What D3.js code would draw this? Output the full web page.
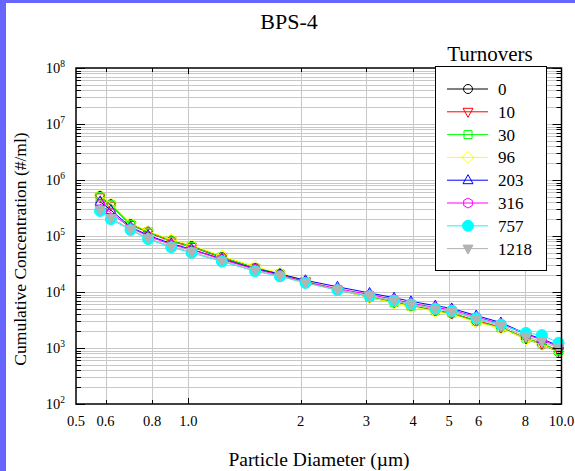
<!DOCTYPE html>
<html>
<head>
<meta charset="utf-8">
<script src="https://cdn.jsdelivr.net/npm/d3@7"></script>
<style>
  html, body { margin: 0; padding: 0; background: #fff; }
  svg { display: block; }
  text { font-family: "Liberation Serif", "Times New Roman", serif; fill: #000; }
</style>
</head>
<body>
<svg id="chart" width="575" height="471"></svg>
<script>
// Particle diameter channels (µm)
const diameters = [0.58, 0.62, 0.70, 0.78, 0.90, 1.02, 1.23, 1.51, 1.76, 2.06, 2.51,
                   3.06, 3.56, 3.95, 4.59, 5.08, 5.91, 6.88, 8.03, 8.86, 9.82];

// Cumulative concentration (#/ml) for each turnover count
const conc0    = [5.2e5, 3.7e5, 1.62e5, 1.2e5, 8.3e4, 6.6e4, 4.2e4, 2.7e4, 2.1e4, 1.55e4, 1.1e4,
                  8.0e3, 6.5e3, 5.6e3, 4.6e3, 4.1e3, 3.0e3, 2.3e3, 1.45e3, 1.15e3, 850];
const conc10   = [4.9e5, 3.5e5, 1.58e5, 1.15e5, 8.0e4, 6.4e4, 4.1e4, 2.65e4, 2.05e4, 1.55e4, 1.1e4,
                  8.2e3, 6.6e3, 5.7e3, 4.7e3, 4.2e3, 3.1e3, 2.35e3, 1.5e3, 1.2e3, 900];
const conc30   = [5.0e5, 3.6e5, 1.6e5, 1.18e5, 8.2e4, 6.5e4, 4.2e4, 2.7e4, 2.1e4, 1.55e4, 1.1e4,
                  8.1e3, 6.5e3, 5.6e3, 4.6e3, 4.2e3, 3.0e3, 2.3e3, 1.5e3, 1.2e3, 900];
const conc96   = [5.3e5, 3.8e5, 1.7e5, 1.22e5, 8.6e4, 6.9e4, 4.4e4, 2.85e4, 2.2e4, 1.6e4, 1.1e4,
                  7.9e3, 6.4e3, 5.5e3, 4.5e3, 4.0e3, 2.9e3, 2.25e3, 1.45e3, 1.15e3, 860];
const conc203  = [4.1e5, 2.9e5, 1.45e5, 1.03e5, 7.3e4, 5.8e4, 3.9e4, 2.6e4, 2.1e4, 1.62e4, 1.24e4,
                  9.6e3, 7.9e3, 6.8e3, 5.7e3, 5.1e3, 3.8e3, 2.85e3, 1.8e3, 1.45e3, 1.1e3];
const conc316  = [3.7e5, 2.6e5, 1.4e5, 1.0e5, 7.0e4, 5.7e4, 3.8e4, 2.55e4, 2.0e4, 1.52e4, 1.15e4,
                  9.0e3, 7.4e3, 6.3e3, 5.3e3, 4.8e3, 3.6e3, 2.7e3, 1.75e3, 1.4e3, 1.05e3];
const conc757  = [2.8e5, 2.0e5, 1.28e5, 8.8e4, 6.3e4, 5.0e4, 3.5e4, 2.35e4, 1.9e4, 1.45e4, 1.08e4,
                  8.4e3, 7.0e3, 6.0e3, 5.0e3, 4.6e3, 3.4e3, 2.6e3, 1.86e3, 1.7e3, 1.24e3];
const conc1218 = [2.9e5, 2.1e5, 1.32e5, 9.1e4, 6.5e4, 5.2e4, 3.6e4, 2.4e4, 1.93e4, 1.47e4, 1.09e4,
                  8.5e3, 7.0e3, 6.0e3, 5.0e3, 4.5e3, 3.3e3, 2.5e3, 1.6e3, 1.3e3, 990];

const turnovers = ["0", "10", "30", "96", "203", "316", "757", "1218"];
const seriesValues = [conc0, conc10, conc30, conc96, conc203, conc316, conc757, conc1218];

const xTickValues = [0.5, 0.6, 0.8, 1.0, 2, 3, 4, 5, 6, 8, 10];
const xTickLabels = ["0.5", "0.6", "0.8", "1.0", "2", "3", "4", "5", "6", "8", "10.0"];
const yExponents = [2, 3, 4, 5, 6, 7, 8];

// Styling per series
const styles = [
  { color: "#000000", shape: "circle",   fill: false },
  { color: "#ff0000", shape: "triDown",  fill: false },
  { color: "#00ff00", shape: "square",   fill: false },
  { color: "#ffff00", shape: "diamond",  fill: false },
  { color: "#0000ff", shape: "triUp",    fill: false },
  { color: "#ff00ff", shape: "hexagon",  fill: false },
  { color: "#00ffff", shape: "bigCircle", fill: true },
  { color: "#b3b3b3", shape: "triDown",  fill: true }
];

function markerPath(shape) {
  const p = d3.path();
  switch (shape) {
    case "circle": p.arc(0, 0, 4.5, 0, 2 * Math.PI); break;
    case "bigCircle": p.arc(0, 0, 5.5, 0, 2 * Math.PI); break;
    case "square": p.rect(-4, -4, 8, 8); break;
    case "diamond": p.moveTo(0, -6); p.lineTo(6, 0); p.lineTo(0, 6); p.lineTo(-6, 0); p.closePath(); break;
    case "triUp": p.moveTo(0, -5.5); p.lineTo(5, 3.5); p.lineTo(-5, 3.5); p.closePath(); break;
    case "triDown": p.moveTo(0, 5.5); p.lineTo(5, -3.5); p.lineTo(-5, -3.5); p.closePath(); break;
    case "hexagon":
      for (let i = 0; i < 6; i++) {
        const a = Math.PI / 6 + i * Math.PI / 3;
        const px = 5 * Math.cos(a), py = 5 * Math.sin(a);
        if (i === 0) p.moveTo(px, py); else p.lineTo(px, py);
      }
      p.closePath();
      break;
  }
  return p.toString();
}

const svg = d3.select("#chart");

// Frame accent strips
svg.append("rect").attr("x", 0).attr("y", 0).attr("width", 575).attr("height", 3).attr("fill", "#6666ff");
svg.append("rect").attr("x", 0).attr("y", 0).attr("width", 6).attr("height", 471).attr("fill", "#6666ff");

const plotLeft = 76, plotRight = 561.5, plotTop = 68, plotBottom = 404;
const x = d3.scaleLog().domain([0.5, 10]).range([plotLeft, plotRight]);
const y = d3.scaleLog().domain([1e2, 1e8]).range([plotBottom, plotTop]);

// Grid
const grid = svg.append("g").attr("stroke", "#c8c8c8").attr("stroke-width", 1);
const yGridVals = [];
for (let e = 2; e < 8; e++) for (let m = 1; m <= 9; m++) yGridVals.push(m * Math.pow(10, e));
yGridVals.push(1e8);
grid.selectAll("line.h").data(yGridVals.filter(v => v > 1e2 && v < 1e8)).join("line")
  .attr("x1", plotLeft).attr("x2", plotRight)
  .attr("y1", d => Math.round(y(d)) + 0.5).attr("y2", d => Math.round(y(d)) + 0.5);
grid.selectAll("line.v").data(xTickValues.filter(v => v > 0.5 && v < 10)).join("line")
  .attr("y1", plotTop).attr("y2", plotBottom)
  .attr("x1", d => Math.round(x(d)) + 0.5).attr("x2", d => Math.round(x(d)) + 0.5);

// Series
const line = d3.line().x(d => x(d[0])).y(d => y(d[1]));
seriesValues.forEach((vals, i) => {
  const st = styles[i];
  const pts = diameters.map((d, j) => [d, vals[j]]);
  const g = svg.append("g");
  g.append("path").datum(pts).attr("d", line)
    .attr("fill", "none").attr("stroke", st.color).attr("stroke-width", 1);
  g.selectAll("path.m").data(pts).join("path")
    .attr("d", markerPath(st.shape))
    .attr("transform", d => `translate(${x(d[0])},${y(d[1])})`)
    .attr("fill", st.fill ? st.color : "none")
    .attr("stroke", st.color).attr("stroke-width", 1);
});

// Axes frame
const axis = svg.append("g").attr("stroke", "#000");
axis.append("rect").attr("x", plotLeft).attr("y", plotTop)
  .attr("width", plotRight - plotLeft).attr("height", plotBottom - plotTop)
  .attr("fill", "none").attr("stroke-width", 1.5);

// Y ticks (inward, both sides)
yGridVals.forEach(v => {
  if (v < 1e2 || v > 1e8) return;
  const major = Math.abs(Math.log10(v) - Math.round(Math.log10(v))) < 1e-9;
  const len = major ? 9 : 5;
  const yy = Math.round(y(v)) + 0.5;
  axis.append("line").attr("x1", plotLeft).attr("x2", plotLeft + len).attr("y1", yy).attr("y2", yy).attr("stroke-width", 1);
  axis.append("line").attr("x1", plotRight).attr("x2", plotRight - len).attr("y1", yy).attr("y2", yy).attr("stroke-width", 1);
});

// X ticks (inward, bottom and top)
xTickValues.filter(v => v > 0.5 && v < 10).forEach(v => {
  const xx = Math.round(x(v)) + 0.5;
  const len = (v === 1) ? 6 : 4;
  axis.append("line").attr("x1", xx).attr("x2", xx).attr("y1", plotBottom).attr("y2", plotBottom - len).attr("stroke-width", 1);
  axis.append("line").attr("x1", xx).attr("x2", xx).attr("y1", plotTop).attr("y2", plotTop + len).attr("stroke-width", 1);
});

// X tick labels
svg.append("g").selectAll("text").data(xTickValues).join("text")
  .attr("x", d => x(d))
  .attr("y", 426)
  .attr("text-anchor", "middle")
  .attr("font-size", 14.5)
  .text((d, i) => xTickLabels[i]);

// Y tick labels with superscript exponents
const yl = svg.append("g").selectAll("text").data(yExponents).join("text")
  .attr("x", 65).attr("y", d => y(Math.pow(10, d)) + 5)
  .attr("text-anchor", "end")
  .attr("font-size", 14.5);
yl.append("tspan").text("10");
yl.append("tspan").attr("dy", -6).attr("font-size", 9.5).text(d => d);

// Titles
svg.append("text").attr("x", 289).attr("y", 29).attr("text-anchor", "middle")
  .attr("font-size", 22).text("BPS-4");
svg.append("text").attr("x", 319).attr("y", 466).attr("text-anchor", "middle")
  .attr("font-size", 19.5).text("Particle Diameter (\u00b5m)");
svg.append("text").attr("transform", "translate(26,249) rotate(-90)").attr("text-anchor", "middle")
  .attr("font-size", 17.5).text("Cumulative Concentration (#/ml)");

// Legend
const lg = svg.append("g");
lg.append("text").attr("x", 490).attr("y", 61).attr("text-anchor", "middle")
  .attr("font-size", 21).text("Turnovers");
lg.append("rect").attr("x", 435.5).attr("y", 66.5).attr("width", 111).attr("height", 204)
  .attr("fill", "#fff").attr("stroke", "#000").attr("stroke-width", 1);
turnovers.forEach((t, i) => {
  const st = styles[i];
  const yy = 89 + i * 22.8;
  lg.append("line").attr("x1", 447).attr("x2", 488).attr("y1", yy).attr("y2", yy)
    .attr("stroke", st.color).attr("stroke-width", 1);
  lg.append("path").attr("d", markerPath(st.shape)).attr("transform", `translate(468,${yy})`)
    .attr("fill", st.fill ? st.color : "none").attr("stroke", st.color).attr("stroke-width", 1);
  lg.append("text").attr("x", 498).attr("y", yy + 6).attr("font-size", 17).text(t);
});
</script>
</body>
</html>
